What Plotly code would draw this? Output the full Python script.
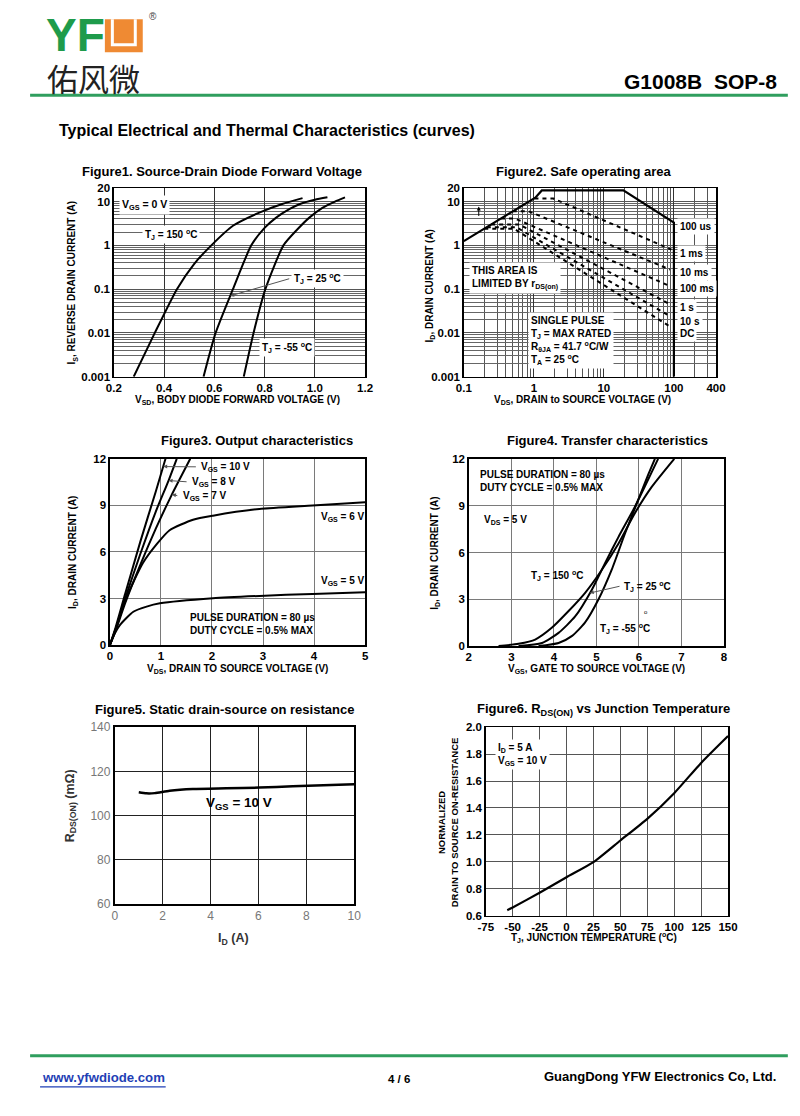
import numpy as np
import plotly.graph_objects as go

W, H = 800, 1116
FONT = "Liberation Sans, Arial, sans-serif"

# ---------------- data ----------------
# Figure 1: source-drain diode forward voltage
f1_vsd_150 = [0.279, 0.363, 0.451, 0.52, 0.588, 0.674, 0.779, 0.87, 0.951]
f1_is_150 = [0.001, 0.01, 0.1, 0.38, 1.0, 2.8, 5.6, 8.8, 12.0]
f1_vsd_25 = [0.557, 0.605, 0.674, 0.747, 0.80, 0.846, 0.90, 0.938, 1.0, 1.05]
f1_is_25 = [0.001, 0.01, 0.1, 1.0, 2.5, 4.3, 6.8, 8.7, 11.0, 12.5]
f1_vsd_m55 = [0.717, 0.756, 0.803, 0.875, 0.93, 0.978, 1.03, 1.08, 1.12]
f1_is_m55 = [0.001, 0.01, 0.1, 1.0, 2.3, 4.3, 7.2, 10.0, 12.5]
f1_xticks = [0.2, 0.4, 0.6, 0.8, 1.0, 1.2]
f1_xlabels = ["0.2", "0.4", "0.6", "0.8", "1.0", "1.2"]
log_yticks = [0.001, 0.01, 0.1, 1, 10, 20]
log_ylabels = ["0.001", "0.01", "0.1", "1", "10", "20"]

# Figure 2: safe operating area
f2_lim_v = [0.1, 1.05, 1.3, 19, 100, 100]
f2_lim_i = [1.25, 12.3, 18, 18, 3.3, 0.001]
f2_1ms_v = [1.02, 1.9, 92]
f2_1ms_i = [11.7, 11.7, 0.8]
f2_10ms_v = [0.50, 0.84, 88]
f2_10ms_i = [6.0, 6.0, 0.28]
f2_100ms_v = [0.34, 0.54, 88]
f2_100ms_i = [4.1, 4.1, 0.117]
f2_1s_v = [0.246, 0.62, 88]
f2_1s_i = [3.0, 3.0, 0.045]
f2_10s_v = [0.213, 0.56, 88]
f2_10s_i = [2.6, 2.6, 0.024]
f2_dc_v = [0.196, 0.52, 88]
f2_dc_i = [2.4, 2.4, 0.014]
f2_xticks = [0.1, 1, 10, 100, 400]
f2_xlabels = ["0.1", "1", "10", "100", "400"]
f2_pulse_labels = ["100 us", "1 ms", "10 ms", "100 ms", "1 s", "10 s", "DC"]

# Figure 3: output characteristics
f3_vds_10 = [0, 0.1, 0.3, 0.6, 0.9, 1.09]
f3_id_10 = [0, 1.0, 3.3, 6.7, 9.9, 12]
f3_vds_8 = [0, 0.1, 0.3, 0.6, 0.9, 1.15, 1.31]
f3_id_8 = [0, 0.9, 3.0, 5.9, 8.6, 10.6, 12]
f3_vds_7 = [0, 0.1, 0.3, 0.6, 0.9, 1.2, 1.575]
f3_id_7 = [0, 0.8, 2.7, 5.2, 7.5, 9.6, 12]
f3_vds_6 = [0, 0.1, 0.33, 0.65, 0.91, 1.17, 1.63, 2.02, 2.93, 3.97, 5.0]
f3_id_6 = [0, 0.9, 3.1, 5.3, 6.47, 7.4, 8.08, 8.34, 8.77, 8.99, 9.2]
f3_vds_5 = [0, 0.065, 0.2, 0.46, 0.72, 0.98, 2.02, 2.93, 3.97, 5.0]
f3_id_5 = [0, 0.54, 1.3, 2.15, 2.48, 2.69, 3.02, 3.17, 3.3, 3.4]

# Figure 4: transfer characteristics
f4_vgs_150 = [2.7, 3.17, 3.56, 3.95, 4.34, 4.73, 5.125, 5.52, 5.9, 6.3, 6.83]
f4_id_150 = [0, 0.15, 0.42, 1.17, 2.23, 3.4, 4.88, 6.58, 8.5, 10.2, 12]
f4_vgs_25 = [3.17, 3.72, 4.11, 4.5, 4.89, 5.2, 5.52, 5.9, 6.3, 6.45]
f4_id_25 = [0, 0.2, 0.85, 1.9, 3.6, 5.3, 7.0, 8.9, 11.15, 12]
f4_vgs_m55 = [3.64, 4.11, 4.42, 4.73, 5.05, 5.36, 5.67, 5.98, 6.22, 6.375]
f4_id_m55 = [0, 0.2, 0.64, 1.5, 3.0, 4.9, 7.2, 9.35, 11.0, 12]

# Figure 5: static drain-source on resistance
f5_id = [1.0, 1.32, 1.67, 2.29, 3.26, 4.65, 6.04, 7.43, 10.0]
f5_rds = [110.5, 110.0, 110.1, 111.2, 112.0, 112.3, 112.6, 113.2, 114.1]

# Figure 6: normalized RDS(on) vs junction temperature
f6_tj = [-55, -50, -25, 0, 25, 50, 75, 100, 125, 150]
f6_rn = [0.64, 0.66, 0.77, 0.885, 0.997, 1.158, 1.319, 1.51, 1.735, 1.935]
f6_xticks = [-75, -50, -25, 0, 25, 50, 75, 100, 125, 150]
f6_xlabels = ["-75", "-50", "-25", "0", "25", "50", "75", "100", "125", "150"]


# ---------------- page mapping ----------------
# positions below are given in reference-page pixels; the viewer shows the
# page slightly shrunk and offset, so convert to figure pixels here.
def TX(px):
    return (px - 7.84) / 0.9804


def TY(py):
    return (py - 7.89) / 0.9859


# panel geometry (reference-page pixels)
P = {
    1: dict(x0=114, x1=366, y0=189, y1=377, xr=(0.2, 1.2), yr=(-3, np.log10(20)), xlog=False, ylog=True),
    2: dict(x0=465, x1=718, y0=189, y1=377, xr=(-1, np.log10(400)), yr=(-3, np.log10(20)), xlog=True, ylog=True),
    3: dict(x0=110, x1=366, y0=459, y1=645, xr=(0, 5), yr=(0, 12), xlog=False, ylog=False),
    4: dict(x0=470, x1=726, y0=459, y1=646, xr=(2, 8), yr=(0, 12), xlog=False, ylog=False),
    5: dict(x0=115, x1=355, y0=727, y1=903, xr=(0, 10), yr=(60, 140), xlog=False, ylog=False),
    6: dict(x0=487, x1=730, y0=727, y1=915, xr=(-75, 150), yr=(0.6, 2.0), xlog=False, ylog=False),
}


def to_page(n, xv, yv):
    p = P[n]
    xx = np.log10(xv) if p["xlog"] else xv
    yy = np.log10(yv) if p["ylog"] else yv
    px = p["x0"] + (xx - p["xr"][0]) / (p["xr"][1] - p["xr"][0]) * (p["x1"] - p["x0"])
    py = p["y1"] - (yy - p["yr"][0]) / (p["yr"][1] - p["yr"][0]) * (p["y1"] - p["y0"])
    return float(px), float(py)


fig = go.Figure()


def add_line(n, xs, ys, width=2, dash="solid", shape="spline", color="black"):
    fig.add_trace(go.Scatter(
        x=xs, y=ys, mode="lines",
        xaxis="x" if n == 1 else f"x{n}", yaxis="y" if n == 1 else f"y{n}",
        line=dict(color=color, width=width, dash=dash, shape=shape, smoothing=0.6),
        hoverinfo="skip", showlegend=False))


# Figure 1
add_line(1, f1_vsd_150, f1_is_150)
add_line(1, f1_vsd_25, f1_is_25)
add_line(1, f1_vsd_m55, f1_is_m55)
# Figure 2
add_line(2, f2_lim_v, f2_lim_i, width=2.2, shape="linear")
for vv, ii in [(f2_1ms_v, f2_1ms_i), (f2_10ms_v, f2_10ms_i), (f2_100ms_v, f2_100ms_i),
               (f2_1s_v, f2_1s_i), (f2_10s_v, f2_10s_i), (f2_dc_v, f2_dc_i)]:
    add_line(2, vv, ii, width=2, dash="4px,4px", shape="linear")
# Figure 3
for vv, ii in [(f3_vds_10, f3_id_10), (f3_vds_8, f3_id_8), (f3_vds_7, f3_id_7),
               (f3_vds_6, f3_id_6), (f3_vds_5, f3_id_5)]:
    add_line(3, vv, ii)
# Figure 4
for vv, ii in [(f4_vgs_150, f4_id_150), (f4_vgs_25, f4_id_25), (f4_vgs_m55, f4_id_m55)]:
    add_line(4, vv, ii)
# Figure 5
add_line(5, f5_id, f5_rds, width=2.5)
# Figure 6
add_line(6, f6_tj, f6_rn, width=2.2)


# ---------------- axes ----------------
def dom(n):
    p = P[n]
    return ([TX(p["x0"]) / W, TX(p["x1"]) / W],
            [1 - TY(p["y1"]) / H, 1 - TY(p["y0"]) / H])


tickfont = dict(family=FONT, size=11.5, color="black", weight="bold")
base = dict(showline=True, mirror=True, linecolor="black", linewidth=1.5, ticks="",
            zeroline=False, fixedrange=True, tickfont=tickfont)

minor_y = [m * 10.0 ** e for e in range(-3, 2) for m in range(2, 10) if m * 10.0 ** e < 20]
minor_x2 = [m * 10.0 ** e for e in range(-1, 3) for m in range(2, 10) if m * 10.0 ** e < 400]

axes = {}
# fig1
xd, yd = dom(1)
axes["xaxis"] = dict(base, domain=xd, anchor="y", range=list(P[1]["xr"]), tickvals=f1_xticks,
                     ticktext=f1_xlabels, showgrid=True, gridcolor="#333", gridwidth=1)
axes["yaxis"] = dict(base, domain=yd, anchor="x", type="log", range=list(P[1]["yr"]),
                     tickvals=log_yticks, ticktext=log_ylabels, showgrid=True, gridcolor="#555",
                     gridwidth=1, minor=dict(tickvals=minor_y, showgrid=True, gridcolor="#666",
                                             gridwidth=1, ticks=""))
# fig2
xd, yd = dom(2)
axes["xaxis2"] = dict(base, domain=xd, anchor="y2", type="log", range=list(P[2]["xr"]),
                      tickvals=f2_xticks, ticktext=f2_xlabels, showgrid=True, gridcolor="#333",
                      gridwidth=1, minor=dict(tickvals=minor_x2, showgrid=True, gridcolor="#555",
                                              gridwidth=1, ticks=""))
axes["yaxis2"] = dict(base, domain=yd, anchor="x2", type="log", range=list(P[2]["yr"]),
                      tickvals=log_yticks, ticktext=log_ylabels, showgrid=True, gridcolor="#555",
                      gridwidth=1, minor=dict(tickvals=minor_y, showgrid=True, gridcolor="#666",
                                              gridwidth=1, ticks=""))
# fig3
xd, yd = dom(3)
axes["xaxis3"] = dict(base, domain=xd, anchor="y3", range=[0, 5], tickvals=[0, 1, 2, 3, 4, 5],
                      showgrid=True, gridcolor="#7a7a7a", gridwidth=1)
axes["yaxis3"] = dict(base, domain=yd, anchor="x3", range=[0, 12], tickvals=[0, 3, 6, 9, 12],
                      showgrid=True, gridcolor="#7a7a7a", gridwidth=1)
# fig4
xd, yd = dom(4)
axes["xaxis4"] = dict(base, domain=xd, anchor="y4", range=[2, 8], tickvals=[2, 3, 4, 5, 6, 7, 8],
                      showgrid=True, gridcolor="#7a7a7a", gridwidth=1)
axes["yaxis4"] = dict(base, domain=yd, anchor="x4", range=[0, 12], tickvals=[0, 3, 6, 9, 12],
                      showgrid=True, gridcolor="#7a7a7a", gridwidth=1)
# fig5
xd, yd = dom(5)
f5font = dict(family=FONT, size=12, color="#777", weight="normal")
axes["xaxis5"] = dict(base, domain=xd, anchor="y5", range=[0, 10], tickvals=[0, 2, 4, 6, 8, 10],
                      showgrid=True, gridcolor="#222", gridwidth=1.2, linewidth=2, tickfont=f5font)
axes["yaxis5"] = dict(base, domain=yd, anchor="x5", range=[60, 140],
                      tickvals=[60, 80, 100, 120, 140], showgrid=True, gridcolor="#222",
                      gridwidth=1.2, linewidth=2, tickfont=f5font)
# fig6
xd, yd = dom(6)
axes["xaxis6"] = dict(base, domain=xd, anchor="y6", range=[-75, 150],
                      tickvals=f6_xticks, ticktext=f6_xlabels, showgrid=True, gridcolor="#555", gridwidth=1)
axes["yaxis6"] = dict(base, domain=yd, anchor="x6", range=[0.6, 2.0],
                      tickvals=[0.6, 0.8, 1.0, 1.2, 1.4, 1.6, 1.8, 2.0],
                      ticktext=["0.6", "0.8", "1.0", "1.2", "1.4", "1.6", "1.8", "2.0"],
                      showgrid=True, gridcolor="#555", gridwidth=1)


# ---------------- annotations ----------------
def A(text, px, py, size=10, xanchor="left", yanchor="middle", bold=True, color="black",
      bg=None, angle=0, align="left", family=FONT):
    d = dict(text=text, x=TX(px) / W, y=1 - TY(py) / H, xref="paper", yref="paper", showarrow=False,
             xanchor=xanchor, yanchor=yanchor, align=align, textangle=angle,
             font=dict(family=family, size=size, color=color, weight="bold" if bold else "normal"))
    if bg:
        d.update(bgcolor=bg, borderpad=2)
    return d


def L(n, xv, yv, tail_px, tail_py, color="#555"):
    tx, ty = to_page(n, xv, yv)
    tx, ty = TX(tx), TY(ty)
    sx, sy = TX(tail_px), TY(tail_py)
    return dict(x=tx / W, y=1 - ty / H, xref="paper", yref="paper", text="", showarrow=True,
                ax=sx - tx, ay=sy - ty, axref="pixel", ayref="pixel",
                arrowhead=2, arrowsize=0.8, arrowwidth=1, arrowcolor=color)


ann = []
# header / footer
ann.append(A("YF", 44, 36, size=46, bold=True, color="#1e9b4b"))
ann.append(A("®", 147, 17, size=10, bold=False, color="#444"))
ann.append(A("佑风微", 45, 78, size=31, bold=False, color="#222", family="Noto Sans CJK SC"))
ann.append(A("G1008B\u00a0\u00a0SOP-8", 781, 82, size=21, xanchor="right"))
ann.append(A("Typical Electrical and Thermal Characteristics (curves)", 57, 131, size=16))
ann.append(A("www.yfwdiode.com", 40, 1077, size=13.2, color="#1f3fb5"))
ann.append(A("4 / 6", 400, 1078, size=11.5, xanchor="center"))
ann.append(A("GuangDong YFW Electronics Co, Ltd.", 780, 1076, size=13, xanchor="right"))

# titles
ann.append(A("Figure1. Source-Drain Diode Forward Voltage", 222, 172, size=13, xanchor="center"))
ann.append(A("Figure2. Safe operating area", 586, 172, size=13, xanchor="center"))
ann.append(A("Figure3. Output characteristics", 258, 441, size=13, xanchor="center"))
ann.append(A("Figure4. Transfer characteristics", 609, 441, size=13, xanchor="center"))
ann.append(A("Figure5. Static drain-source on resistance", 225, 709, size=13, xanchor="center"))
ann.append(A("Figure6. R<sub>DS(ON)</sub> vs Junction Temperature", 605, 709, size=13, xanchor="center"))

# axis titles
ann.append(A("I<sub>S</sub>, REVERSE DRAIN CURRENT (A)", 72, 283, size=10, xanchor="center", angle=-90))
ann.append(A("V<sub>SD</sub>, BODY DIODE FORWARD VOLTAGE (V)", 238, 400, size=10, xanchor="center"))
ann.append(A("I<sub>D</sub>, DRAIN CURRENT (A)", 431, 286, size=10, xanchor="center", angle=-90))
ann.append(A("V<sub>DS</sub>, DRAIN to SOURCE VOLTAGE (V)", 584, 400, size=10, xanchor="center"))
ann.append(A("I<sub>D</sub>, DRAIN CURRENT (A)", 73, 552, size=10, xanchor="center", angle=-90))
ann.append(A("V<sub>DS</sub>, DRAIN TO SOURCE VOLTAGE (V)", 238, 669, size=10, xanchor="center"))
ann.append(A("I<sub>D</sub>, DRAIN CURRENT (A)", 436, 553, size=10, xanchor="center", angle=-90))
ann.append(A("V<sub>GS</sub>, GATE TO SOURCE VOLTAGE (V)", 598, 669, size=10, xanchor="center"))
ann.append(A("R<sub>DS(ON)</sub> (mΩ)", 71, 805, size=12.5, xanchor="center", angle=-90, color="#333"))
ann.append(A("I<sub>D</sub> (A)", 234, 938, size=12.5, xanchor="center", color="#333"))
ann.append(A("NORMALIZED<br>DRAIN TO SOURCE ON-RESISTANCE", 449, 822, size=9.5,
             xanchor="center", angle=-90, align="center"))
ann.append(A("T<sub>J</sub>, JUNCTION TEMPERATURE (<sup>o</sup>C)", 596, 937, size=10, xanchor="center"))

# figure 1 labels
ann.append(A("V<sub>GS</sub> = 0 V", 119, 206, size=10.5, bg="white"))
ann.append(A("T<sub>J</sub> = 150 <sup>o</sup>C", 142, 235, size=10, bg="white"))
ann.append(A("T<sub>J</sub> = 25 <sup>o</sup>C", 292, 279, size=10, bg="white"))
ann.append(L(1, float(10 ** np.interp(np.log10(0.07), np.log10(f1_is_25), np.log10(np.array(f1_vsd_25)))), 0.07, 290, 279))
ann.append(A("T<sub>J</sub> = -55 <sup>o</sup>C", 260, 348, size=10, bg="white"))

# figure 2 labels
ann.append(A("THIS AREA IS<br>LIMITED BY r<sub>DS(on)</sub>", 470, 278, size=10, bg="white"))
ann.append(A("SINGLE PULSE<br>T<sub>J</sub> = MAX RATED<br>R<sub>θJA</sub> = 41.7 <sup>o</sup>C/W<br>T<sub>A</sub> = 25 <sup>o</sup>C",
             529, 341, size=10, bg="white"))
for lab, py in zip(f2_pulse_labels, [227, 254, 273, 289, 308, 322, 334]):
    ann.append(A(lab, 679, py, size=10, bg="white"))
ann.append(dict(x=TX(480) / W, y=1 - TY(207) / H, xref="paper", yref="paper", text="", showarrow=True,
                ax=0, ay=11, axref="pixel", ayref="pixel", arrowhead=2, arrowsize=0.8,
                arrowwidth=1, arrowcolor="black"))

# figure 3 labels
ann.append(A("V<sub>GS</sub> = 10 V", 199, 467, size=10))
ann.append(L(3, float(np.interp(11.5, f3_id_10, f3_vds_10)), 11.5, 197, 467))
ann.append(A("V<sub>GS</sub> = 8 V", 190, 482, size=10))
ann.append(L(3, float(np.interp(10.6, f3_id_8, f3_vds_8)), 10.6, 188, 482))
ann.append(A("V<sub>GS</sub> = 7 V", 181, 496, size=10))
ann.append(L(3, float(np.interp(9.7, f3_id_7, f3_vds_7)), 9.7, 179, 496))
ann.append(A("V<sub>GS</sub> = 6 V", 320, 517, size=10))
ann.append(A("V<sub>GS</sub> = 5 V", 320, 581, size=10))
ann.append(A("PULSE DURATION = 80 µs<br>DUTY CYCLE = 0.5% MAX", 188, 624, size=10))

# figure 4 labels
ann.append(A("PULSE DURATION = 80 µs<br>DUTY CYCLE = 0.5% MAX", 479, 481, size=10))
ann.append(A("V<sub>DS</sub> = 5 V", 483, 520, size=10))
ann.append(A("T<sub>J</sub> = 150 <sup>o</sup>C", 530, 575, size=10))
ann.append(A("T<sub>J</sub> = 25 <sup>o</sup>C", 624, 586, size=10))
ann.append(L(4, float(np.interp(3.4, f4_id_25, f4_vgs_25)), 3.4, 622, 586))
ann.append(A("T<sub>J</sub> = -55 <sup>o</sup>C", 600, 628, size=10))
ann.append(A("o", 644, 612, size=6, bold=False))

# figure 5 label
ann.append(A("V<sub>GS</sub> = 10 V", 240, 803, size=13.5, xanchor="center"))

# figure 6 label
ann.append(A("I<sub>D</sub> = 5 A<br>V<sub>GS</sub> = 10 V", 496, 754, size=10, bg="white"))


# ---------------- decorative shapes (logo, rules) ----------------
def PX(px):
    return TX(px) / W


def PY(py):
    return 1 - TY(py) / H


shapes = [
    dict(type="rect", xref="paper", yref="paper", x0=PX(105), x1=PX(143), y0=PY(53), y1=PY(20),
         fillcolor="#ef8a33", line=dict(width=0), layer="above"),
    dict(type="path", xref="paper", yref="paper",
         path=f"M {PX(112.5)} {PY(20)} L {PX(112.5)} {PY(45.5)} L {PX(135.5)} {PY(45.5)} L {PX(135.5)} {PY(20)}",
         line=dict(color="white", width=3), layer="above"),
    dict(type="line", xref="paper", yref="paper", x0=PX(30), x1=PX(790), y0=PY(96), y1=PY(96),
         line=dict(color="#2f9e5e", width=3)),
    dict(type="line", xref="paper", yref="paper", x0=PX(30), x1=PX(790), y0=PY(1055), y1=PY(1055),
         line=dict(color="#2f9e5e", width=3)),
    dict(type="line", xref="paper", yref="paper", x0=PX(40), x1=PX(166), y0=PY(1086), y1=PY(1086),
         line=dict(color="#1f3fb5", width=1.2)),
]

fig.update_layout(
    width=W, height=H, autosize=False,
    margin=dict(l=0, r=0, t=0, b=0, pad=0),
    paper_bgcolor="white", plot_bgcolor="white",
    showlegend=False, annotations=ann, shapes=shapes,
    font=dict(family=FONT, color="black"),
    **axes,
)

post = (
    "var s=document.createElement('style');"
    "s.innerHTML='html,body{margin:0 !important;padding:0 !important;overflow:hidden !important;}"
    ".plotly-graph-div{position:absolute !important;left:0 !important;top:0 !important;}';"
    "document.head.appendChild(s);"
)

fig.write_html("out.html", config={"displayModeBar": False, "staticPlot": True}, post_script=post)
